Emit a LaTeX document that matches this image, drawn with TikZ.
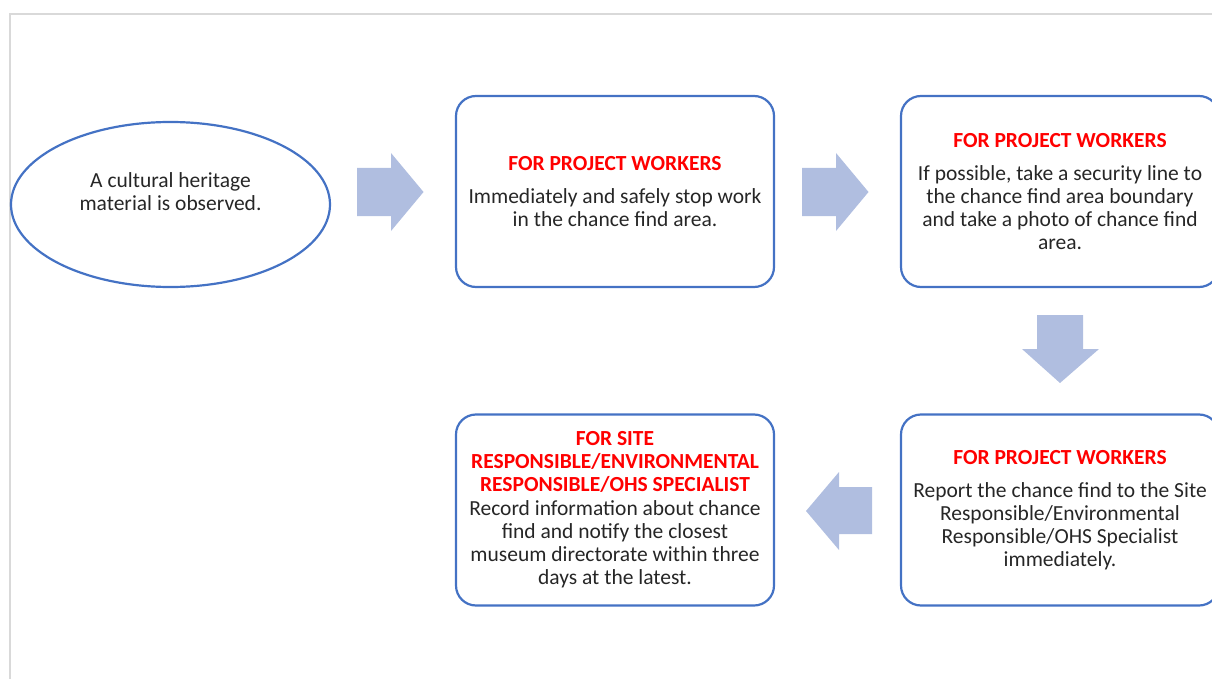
\documentclass[tikz,border=0pt]{standalone}
\usepackage{fontspec}
\setmainfont{Carlito}
\usetikzlibrary{shapes.geometric}
\definecolor{boxblue}{HTML}{4472C4}
\definecolor{arrowfill}{HTML}{B0BEE0}
\definecolor{txt}{HTML}{262626}
\definecolor{framegray}{HTML}{D9D9D9}
\definecolor{headred}{HTML}{FF0000}
\newcommand{\hd}[1]{\textcolor{headred}{\bfseries #1}}
\begin{document}
\begin{tikzpicture}[x=1pt,y=-1pt,
  box/.style={draw=boxblue, line width=2.2pt, rounded corners=20pt,
    minimum width=318pt, minimum height=191pt, align=center, text=txt,
    font=\fontsize{21.5}{23}\selectfont, inner sep=0pt},
  txtnode/.style={align=center, text=txt, font=\fontsize{21.5}{23}\selectfont, inner sep=0pt},
  blockarrow/.style={fill=arrowfill, draw=none},
  framestyle/.style={draw=framegray, line width=1.5pt}]
\useasboundingbox (0,0) rectangle (1212,679);
% frame
\draw[framestyle] (10,690) -- (10,14) -- (1230,14);
% ellipse
\node[ellipse, draw=boxblue, line width=2.2pt, minimum width=319pt, minimum height=165pt, inner sep=0pt] (start) at (170.5,204.5) {};
\node[txtnode] (starttext) at (170.5,191.5) {A cultural heritage\\material is observed.};
% boxes
\node[box] (b1) at (615,191.5) {\hd{FOR PROJECT WORKERS}\\[10pt]Immediately and safely stop work\\in the chance find area.};
\node[box] (b2) at (1060,191.5) {\hd{FOR PROJECT WORKERS}\\[10pt]If possible, take a security line to\\the chance find area boundary\\and take a photo of chance find\\area.};
\node[box] (b3) at (1060,510) {\hd{FOR PROJECT WORKERS}\\[10pt]Report the chance find to the Site\\Responsible/Environmental\\Responsible/OHS Specialist\\immediately.};
\node[box] (b4) at (615,510) {\hd{FOR SITE}\\\hd{RESPONSIBLE/ENVIRONMENTAL}\\\hd{RESPONSIBLE/OHS SPECIALIST}\\[1pt]Record information about chance\\find and notify the closest\\museum directorate within three\\days at the latest.};
% block arrows
\fill[blockarrow] (357,168) -- (391,168) -- (391,153) -- (423.5,192) -- (391,231) -- (391,216) -- (357,216) -- cycle;
\fill[blockarrow] (802,168) -- (836,168) -- (836,153) -- (868.5,192) -- (836,231) -- (836,216) -- (802,216) -- cycle;
\fill[blockarrow] (1037,315) -- (1083,315) -- (1083,349) -- (1099,349) -- (1060,383) -- (1022,349) -- (1037,349) -- cycle;
\fill[blockarrow] (872,487) -- (839,487) -- (839,472) -- (806,511) -- (839,550) -- (839,534) -- (872,534) -- cycle;
\end{tikzpicture}
\end{document}
